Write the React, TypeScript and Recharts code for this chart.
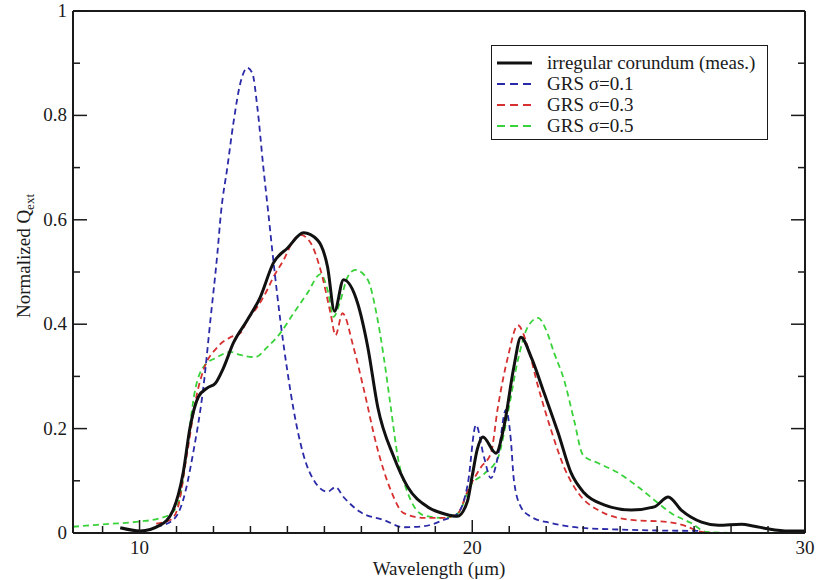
import React from 'react';
import { LineChart, Line, XAxis, YAxis, Legend } from 'recharts';

const FONT = 'Liberation Serif, DejaVu Serif, Times New Roman, serif';
const INK = '#1a1a1a';

// [wavelength (µm), normalized Qext]
const measured: [number, number][] = [
  [9.42, 0.010], [10.02, 0.004], [10.62, 0.015], [11.01, 0.044], [11.31, 0.115], [11.52, 0.203],
  [11.77, 0.261], [12.04, 0.278], [12.28, 0.287], [12.52, 0.316], [12.82, 0.364], [13.24, 0.408],
  [13.63, 0.452], [14.02, 0.517], [14.45, 0.546], [14.93, 0.575], [15.35, 0.561], [15.65, 0.510],
  [15.86, 0.425], [16.13, 0.485], [16.55, 0.441], [16.86, 0.356], [17.16, 0.241], [17.64, 0.146],
  [18.06, 0.088], [18.66, 0.050], [19.2, 0.036], [19.55, 0.032], [19.85, 0.06], [20.0, 0.11],
  [20.15, 0.16], [20.32, 0.184], [20.71, 0.153], [20.95, 0.203], [21.25, 0.318], [21.46, 0.375],
  [21.77, 0.337], [22.16, 0.268], [22.58, 0.192], [22.97, 0.115], [23.36, 0.077], [23.96, 0.054],
  [24.78, 0.044], [25.47, 0.050], [25.89, 0.069], [26.28, 0.044], [26.89, 0.021], [27.4, 0.015],
  [28.09, 0.017], [28.48, 0.013], [28.9, 0.008], [29.51, 0.004], [29.99, 0.004],
];

const grs01: [number, number][] = [
  [10.5, 0.012], [11.01, 0.025], [11.31, 0.063], [11.61, 0.153], [11.92, 0.280], [12.13, 0.408],
  [12.34, 0.536], [12.45, 0.615], [12.64, 0.701], [12.82, 0.785], [13.03, 0.862], [13.24, 0.891],
  [13.39, 0.881], [13.54, 0.816], [13.72, 0.701], [13.87, 0.613], [14.02, 0.523], [14.23, 0.408],
  [14.45, 0.307], [14.63, 0.236], [14.93, 0.149], [15.29, 0.096], [15.65, 0.079], [15.89, 0.088],
  [16.13, 0.069], [16.64, 0.040], [17.34, 0.025], [17.94, 0.011], [18.54, 0.013], [19.14, 0.025],
  [19.57, 0.038], [19.87, 0.096], [20.11, 0.207], [20.35, 0.146], [20.56, 0.105], [20.77, 0.146],
  [21.01, 0.236], [21.16, 0.178], [21.25, 0.102], [21.46, 0.050], [21.77, 0.031], [22.37, 0.019],
  [23.27, 0.010], [24.78, 0.006], [26.8, 0.004],
];

const grs03: [number, number][] = [
  [10.5, 0.018], [10.92, 0.025], [11.13, 0.044], [11.43, 0.153], [11.73, 0.268], [11.92, 0.312],
  [12.34, 0.356], [12.73, 0.375], [13.03, 0.383], [13.24, 0.408], [13.54, 0.433], [13.84, 0.466],
  [14.02, 0.490], [14.33, 0.523], [14.63, 0.561], [14.84, 0.571], [15.14, 0.556], [15.44, 0.504],
  [15.74, 0.421], [15.89, 0.379], [16.10, 0.421], [16.43, 0.356], [16.73, 0.278], [17.16, 0.159],
  [17.55, 0.082], [17.94, 0.038], [18.54, 0.029], [19.14, 0.029], [19.57, 0.038], [19.87, 0.082],
  [20.26, 0.126], [20.56, 0.153], [20.77, 0.241], [21.07, 0.337], [21.37, 0.398], [21.67, 0.356],
  [21.98, 0.280], [22.37, 0.197], [22.76, 0.126], [23.18, 0.077], [23.78, 0.044], [24.78, 0.025],
  [25.89, 0.021], [26.43, 0.013], [26.89, 0.002], [27.49, 0],
];

const grs05: [number, number][] = [
  [8, 0.012], [9, 0.017], [10, 0.022], [10.6, 0.028], [11.0, 0.040], [11.22, 0.069], [11.43, 0.165],
  [11.67, 0.274], [11.92, 0.318], [12.34, 0.337], [12.73, 0.347], [13.03, 0.341], [13.48, 0.337],
  [13.84, 0.356], [14.23, 0.383], [14.63, 0.421], [15.05, 0.460], [15.44, 0.496], [15.65, 0.466],
  [15.83, 0.414], [16.04, 0.446], [16.25, 0.490], [16.49, 0.504], [16.86, 0.485], [17.10, 0.427],
  [17.34, 0.337], [17.55, 0.241], [17.76, 0.146], [18.06, 0.077], [18.54, 0.034], [19.14, 0.029],
  [19.57, 0.038], [19.96, 0.092], [20.35, 0.113], [20.77, 0.144], [21.07, 0.230], [21.37, 0.331],
  [21.67, 0.395], [21.98, 0.412], [22.22, 0.389], [22.46, 0.345], [22.76, 0.293], [23.06, 0.216],
  [23.33, 0.149], [23.78, 0.134], [24.39, 0.115], [24.99, 0.088], [25.59, 0.057], [25.98, 0.038],
  [26.58, 0.019], [27.04, 0.002], [28.09, 0], [30, 0.002],
];

const xTicks = [8.889, 10, 11.111, 12.222, 13.333, 14.444, 15.556, 16.667, 17.778, 18.889, 20,
  21.111, 22.222, 23.333, 24.444, 25.556, 26.667, 27.778, 28.889, 30];
const xMajor = [10, 20, 30];
const yTicks = [0, 0.1, 0.2, 0.3, 0.4, 0.5, 0.6, 0.7, 0.8, 0.9, 1];
const yMajor = [0, 0.2, 0.4, 0.6, 0.8, 1];

const series = [
  { name: 'irregular corundum (meas.)', color: '#111111', dash: undefined, width: 3, pts: measured },
  { name: 'GRS \u03c3=0.1', color: '#2a2aa8', dash: '6 4', width: 1.8, pts: grs01 },
  { name: 'GRS \u03c3=0.3', color: '#d63030', dash: '6 4', width: 1.8, pts: grs03 },
  { name: 'GRS \u03c3=0.5', color: '#3ad23a', dash: '6 4', width: 1.8, pts: grs05 },
];

const toRows = (pts: [number, number][]) => pts.map(([x, y]) => ({ x, y }));

const fmtY = (v: number) => (v === 0 || v === 1 ? String(v) : v.toFixed(1));

const BottomTick = ({ x, y, payload }: any) => {
  const major = xMajor.includes(payload.value);
  return (
    <g>
      <line x1={x} x2={x} y1={y} y2={y - (major ? 13 : 7)} stroke={INK} strokeWidth={1.5} />
      {major && (
        <text x={x} y={y + 21} textAnchor="middle" fontSize={19} fontFamily={FONT} fill={INK}>
          {payload.value}
        </text>
      )}
    </g>
  );
};

const TopTick = ({ x, y, payload }: any) => {
  const major = xMajor.includes(payload.value);
  return <line x1={x} x2={x} y1={y} y2={y + (major ? 13 : 7)} stroke={INK} strokeWidth={1.5} />;
};

const LeftTick = ({ x, y, payload }: any) => {
  const major = yMajor.includes(payload.value);
  return (
    <g>
      <line x1={x} x2={x + (major ? 14 : 7)} y1={y} y2={y} stroke={INK} strokeWidth={1.5} />
      {major && (
        <text x={x - 6} y={y + 6} textAnchor="end" fontSize={19} fontFamily={FONT} fill={INK}>
          {fmtY(payload.value)}
        </text>
      )}
    </g>
  );
};

const RightTick = ({ x, y, payload }: any) => {
  const major = yMajor.includes(payload.value);
  return <line x1={x} x2={x - (major ? 14 : 7)} y1={y} y2={y} stroke={INK} strokeWidth={1.5} />;
};

const renderLegend = () => (
  <div
    style={{
      boxSizing: 'border-box',
      width: 277,
      height: 95,
      border: `1.5px solid ${INK}`,
      background: '#fff',
      padding: '6px 0 0 5px',
      fontFamily: FONT,
      fontSize: 19,
      color: INK,
    }}
  >
    {series.map((s) => (
      <div key={s.name} style={{ display: 'flex', alignItems: 'center', height: 21 }}>
        <svg width={35} height={10} style={{ display: 'block' }}>
          <line x1={0} x2={35} y1={5} y2={5} stroke={s.color}
            strokeWidth={s.dash ? 2 : 3} strokeDasharray={s.dash ? '8 5' : undefined} />
        </svg>
        <span style={{ marginLeft: 15, lineHeight: '21px', whiteSpace: 'nowrap' }}>{s.name}</span>
      </div>
    ))}
  </div>
);

const App = () => {
  const drawOrder = [series[3], series[2], series[1], series[0]];
  return (
    <div style={{ position: 'absolute', left: 0, top: 0, width: 819, height: 580, background: '#fff' }}>
      <LineChart width={819} height={580} margin={{ top: 0, right: 0, bottom: 0, left: 0 }}>
        <XAxis
          dataKey="x"
          type="number"
          domain={[8, 30]}
          ticks={xTicks}
          interval={0}
          allowDataOverflow
          height={47}
          axisLine={{ stroke: INK, strokeWidth: 2 }}
          tickLine={false}
          tickSize={0}
          tickMargin={0}
          tick={BottomTick}
          label={{
            content: ({ viewBox }: any) => (
              <text x={viewBox.x + viewBox.width / 2} y={viewBox.y + 42} textAnchor="middle"
                fontSize={19} fontFamily={FONT} fill={INK}>
                Wavelength (μm)
              </text>
            ),
          }}
        />
        <XAxis
          xAxisId="top"
          orientation="top"
          type="number"
          domain={[8, 30]}
          ticks={xTicks}
          interval={0}
          allowDataOverflow
          height={11}
          axisLine={{ stroke: INK, strokeWidth: 2 }}
          tickLine={false}
          tickSize={0}
          tickMargin={0}
          tick={TopTick}
        />
        <YAxis
          type="number"
          domain={[0, 1]}
          ticks={yTicks}
          interval={0}
          allowDataOverflow
          width={73}
          axisLine={{ stroke: INK, strokeWidth: 2 }}
          tickLine={false}
          tickSize={0}
          tickMargin={0}
          tick={LeftTick}
          label={{
            content: ({ viewBox }: any) => {
              const cx = viewBox.x + 30;
              const cy = viewBox.y + viewBox.height / 2 - 16;
              return (
                <text x={cx} y={cy} transform={`rotate(-90, ${cx}, ${cy})`} textAnchor="middle"
                  fontSize={19} fontFamily={FONT} fill={INK}>
                  Normalized Q<tspan dy={4} fontSize={13}>ext</tspan>
                </text>
              );
            },
          }}
        />
        <YAxis
          yAxisId="right"
          orientation="right"
          type="number"
          domain={[0, 1]}
          ticks={yTicks}
          interval={0}
          allowDataOverflow
          width={14}
          axisLine={{ stroke: INK, strokeWidth: 2 }}
          tickLine={false}
          tickSize={0}
          tickMargin={0}
          tick={RightTick}
        />
        <Legend
          layout="vertical"
          align="center"
          verticalAlign="middle"
          wrapperStyle={{ left: 491, top: 45, width: 277, height: 95 }}
          content={renderLegend}
        />
        {drawOrder.map((s) => (
          <Line
            key={s.name}
            data={toRows(s.pts)}
            dataKey="y"
            name={s.name}
            type="monotone"
            stroke={s.color}
            strokeWidth={s.width}
            strokeDasharray={s.dash}
            dot={false}
            activeDot={false}
            isAnimationActive={false}
          />
        ))}
      </LineChart>
    </div>
  );
};

export default App;
